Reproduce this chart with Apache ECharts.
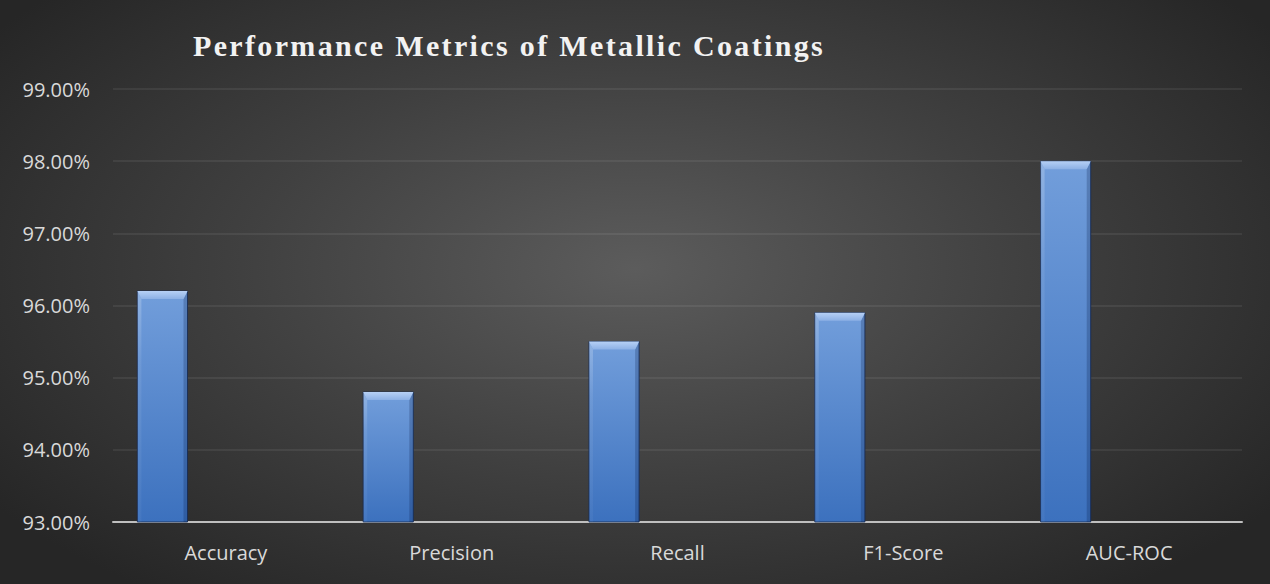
<!DOCTYPE html>
<html>
<head>
<meta charset="utf-8">
<script src="https://cdn.jsdelivr.net/npm/echarts@6/dist/echarts.min.js"></script>
<style>
  html, body { margin: 0; padding: 0; }
  #chart {
    width: 1270px; height: 584px;
    background: radial-gradient(ellipse 62% 70% at 50% 46%, #5c5c5c 0%, #404040 50%, #262626 100%);
  }
</style>
</head>
<body>
<div id="chart"></div>
<script>
// Metric names along the x axis
const categories = ['Accuracy', 'Precision', 'Recall', 'F1-Score', 'AUC-ROC'];
// Score for each metric, in percent
const scores = [96.2, 94.8, 95.5, 95.9, 98.0];
// Value axis range and step, in percent
const yMin = 93;
const yMax = 99;
const yStep = 1;
const titleText = 'Performance Metrics of Metallic Coatings';

const chart = echarts.init(document.getElementById('chart'), null, { renderer: 'svg' });

const labelFont = '"Open Sans", "Noto Sans", sans-serif';

// Bevelled column: body with vertical gradient, lighter top facet, lit left edge, shaded right edge
function renderColumn(params, api) {
  const idx = api.value(0);
  const val = api.value(1);
  const top = api.coord([idx, val]);
  const base = api.coord([idx, yMin]);
  const band = api.size([1, 0])[0];
  const w = band * 0.222;
  const cx = top[0] - band * 0.281;
  const x = cx - w / 2;
  const y = top[1];
  const h = base[1] - top[1];
  const b = 8;   // top facet depth
  const s = 4;   // side facet width
  return {
    type: 'group',
    children: [
      {
        type: 'rect',
        shape: { x: x, y: y, width: w, height: h },
        style: {
          fill: new echarts.graphic.LinearGradient(0, 0, 0, 1, [
            { offset: 0, color: '#729edb' },
            { offset: 1, color: '#3c71be' }
          ]),
          stroke: 'rgba(25,45,85,0.85)',
          lineWidth: 1
        }
      },
      {
        type: 'polygon',
        shape: { points: [[x, y], [x + s, y + b], [x + s, base[1]], [x, base[1]]] },
        style: {
          fill: new echarts.graphic.LinearGradient(0, 0, 0, 1, [
            { offset: 0, color: 'rgba(255,255,255,0.22)' },
            { offset: 0.3, color: 'rgba(255,255,255,0.08)' },
            { offset: 1, color: 'rgba(255,255,255,0.04)' }
          ])
        }
      },
      {
        type: 'polygon',
        shape: { points: [[x + w, y], [x + w - s, y + b], [x + w - s, base[1]], [x + w, base[1]]] },
        style: { fill: 'rgba(0,20,60,0.22)' }
      },
      {
        type: 'polygon',
        shape: { points: [[x, y], [x + w, y], [x + w - s, y + b], [x + s, y + b]] },
        style: {
          fill: new echarts.graphic.LinearGradient(0, 0, 0, 1, [
            { offset: 0, color: '#b6d0f5' },
            { offset: 1, color: '#8cb0e5' }
          ])
        }
      }
    ]
  };
}

chart.setOption({
  animation: false,
  backgroundColor: 'transparent',
  grid: { left: 113, right: 28, top: 89, bottom: 62, containLabel: false },
  graphic: [
    {
      type: 'text',
      id: 'title',
      left: 193,
      top: 30,
      style: {
        text: titleText,
        font: 'bold 30px "Liberation Serif", "Times New Roman", serif',
        fill: '#f2f2f2',
        shadowColor: 'rgba(0,0,0,0.75)',
        shadowBlur: 3,
        shadowOffsetX: 2,
        shadowOffsetY: 2
      }
    }
  ],
  xAxis: {
    type: 'category',
    data: categories,
    boundaryGap: true,
    axisLine: { lineStyle: { color: '#bfbfbf', width: 2 } },
    axisTick: { show: false },
    axisLabel: { color: '#d9d9d9', fontSize: 20, fontFamily: labelFont, margin: 20 },
    splitLine: { show: false }
  },
  yAxis: {
    type: 'value',
    min: yMin,
    max: yMax,
    interval: yStep,
    axisLine: { show: false },
    axisTick: { show: false },
    axisLabel: {
      color: '#d9d9d9', fontSize: 20, fontFamily: labelFont, margin: 23,
      formatter: v => v.toFixed(2) + '%'
    },
    splitLine: { lineStyle: { color: 'rgba(255,255,255,0.09)', width: 1.5 } }
  },
  series: [
    {
      type: 'custom',
      renderItem: renderColumn,
      encode: { x: 0, y: 1 },
      data: scores.map((v, i) => [i, v]),
      clip: false
    }
  ]
});

// Open up the heading's tracking
document.querySelectorAll('#chart svg text').forEach(t => {
  if (t.textContent === titleText) t.style.letterSpacing = '2.35px';
});
</script>
</body>
</html>
